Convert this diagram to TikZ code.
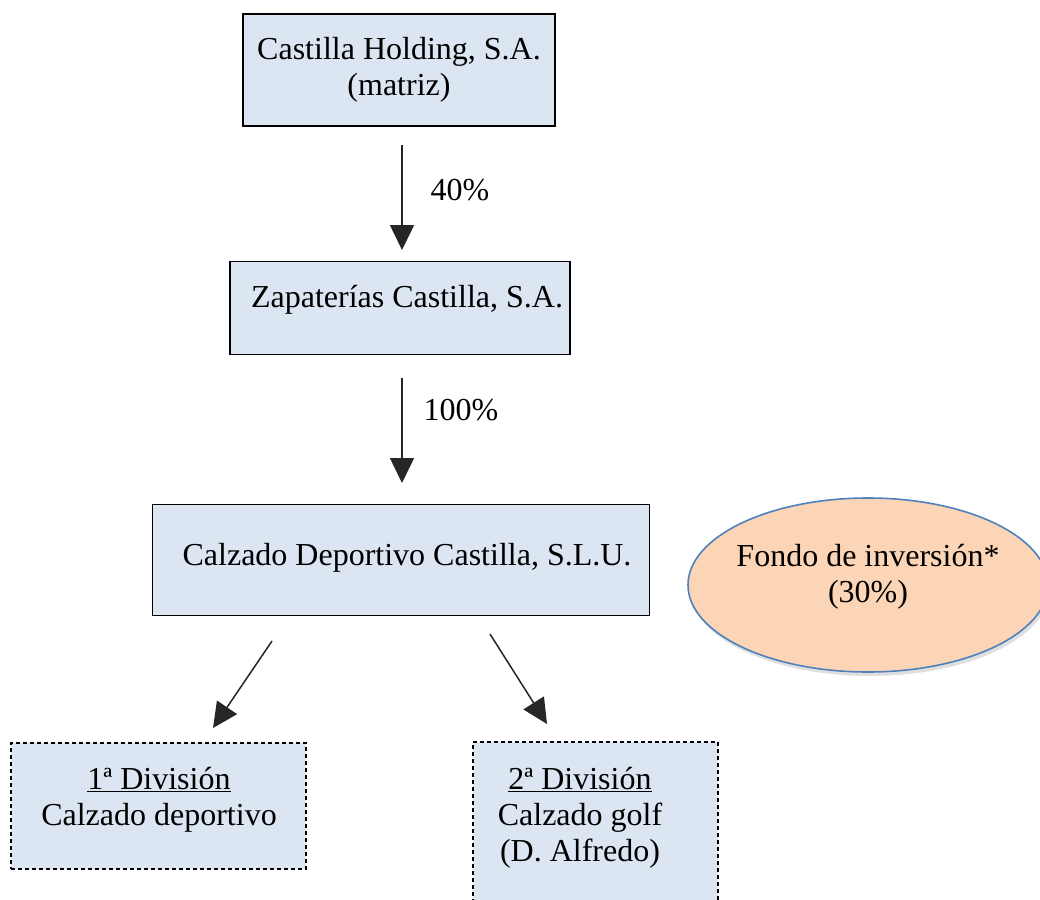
\documentclass[tikz,border=0pt]{standalone}
\usepackage{fontspec}
\setmainfont{Liberation Serif}
\usetikzlibrary{arrows.meta,shadows,shapes.geometric}
\definecolor{boxblue}{HTML}{DCE6F2}
\definecolor{ellfill}{HTML}{FBD5B5}
\definecolor{elldraw}{HTML}{4F81BD}
\begin{document}
\begin{tikzpicture}[x=1pt,y=-1pt,
  font=\fontsize{32}{36}\selectfont,
  entity/.style={draw=black, line width=1.8pt, fill=boxblue, inner sep=0pt, align=center},
  division/.style={draw=black, line width=1.5pt, dash pattern=on 4pt off 3pt, fill=boxblue, inner sep=0pt},
  txt/.style={inner sep=0pt, align=center},
  link/.style={line width=1.5pt, draw=black!85, -{Triangle[width=24pt,length=25pt]}}]
\clip (0,0) rectangle (1040,899);
\fill[white] (0,0) rectangle (1040,899);
% boxes
\node[entity, minimum width=312pt, minimum height=112pt] (holding) at (399,70) {Castilla Holding, S.A.\\(matriz)};
\node[entity, minimum width=340pt, minimum height=93pt] (zapaterias) at (400,308) {};
\node[txt] (zaptext) at (407,300) {Zapaterías Castilla, S.A.};
\node[entity, minimum width=497pt, minimum height=111pt] (calzado) at (401,560) {};
\node[txt] (caltext) at (407,558) {Calzado Deportivo Castilla, S.L.U.};
\node[ellipse, draw=elldraw, line width=1.6pt, fill=ellfill, minimum width=360pt, minimum height=174pt,
  drop shadow={opacity=0.25, shadow xshift=2pt, shadow yshift=-4pt}] (fondo) at (868,585) {};
\node[txt] (fondotext) at (868,577) {Fondo de inversión*\\(30\%)};
\node[division, minimum width=295pt, minimum height=126pt] (div1) at (158.5,806) {};
\node[txt] (div1text) at (159,800) {\underline{1ª División}\\Calzado deportivo};
\node[division, minimum width=245pt, minimum height=200pt] (div2) at (595.5,842) {};
\node[txt] (div2text) at (580,818) {\underline{2ª División}\\Calzado golf\\ (D. Alfredo)};
% connectors
\coordinate (a1s) at (402,145);
\coordinate (a1e) at (402,250);
\coordinate (a2s) at (402,378);
\coordinate (a2e) at (402,483);
\coordinate (a3s) at (272,641);
\coordinate (a3e) at (213,728);
\coordinate (a4s) at (490,634);
\coordinate (a4e) at (547,724);
\draw[link] (a1s) -- (a1e);
\draw[link] (a2s) -- (a2e);
\draw[link] (a3s) -- (a3e);
\draw[link] (a4s) -- (a4e);
\node[txt] (p40) at (460,190) {40\%};
\node[txt] (p100) at (461,410) {100\%};
\end{tikzpicture}
\end{document}
